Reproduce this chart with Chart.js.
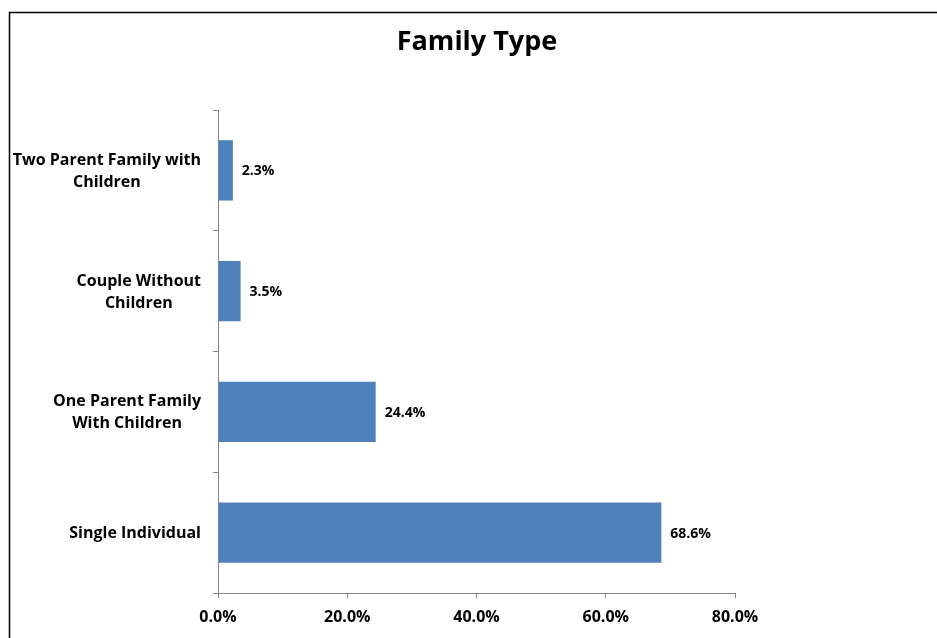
<!DOCTYPE html>
<html>
<head>
<meta charset="utf-8">
<script src="https://cdn.jsdelivr.net/npm/chart.js@4"></script>
<style>
  html, body { margin: 0; padding: 0; background: #ffffff; }
  #wrap { position: relative; width: 937px; height: 638px; }
</style>
</head>
<body>
<div id="wrap"><canvas id="familyChart" width="937" height="638"></canvas></div>
<script>
/* ── Data ── */
const chartTitle = 'Family Type';
const categories = [
  ['Two Parent Family with', 'Children'],
  ['Couple Without', 'Children'],
  ['One Parent Family', 'With Children'],
  ['Single Individual']
];
const shares = [2.3, 3.5, 24.4, 68.6];
const xTicks = [0, 20, 40, 60, 80];

const FONT = '"Open Sans", "Liberation Sans", sans-serif';

/* ── Frame (left + top border) and title ── */
const framePlugin = {
  id: 'frame',
  beforeDraw(chart) {
    const c = chart.ctx;
    c.save();
    c.fillStyle = '#ffffff';
    c.fillRect(0, 0, chart.width, chart.height);
    c.strokeStyle = '#000000';
    c.lineWidth = 1.5;
    c.beginPath();
    c.moveTo(9.5, chart.height);
    c.lineTo(9.5, 12.5);
    c.lineTo(chart.width, 12.5);
    c.stroke();
    c.font = 'bold 27px ' + FONT;
    c.fillStyle = '#000000';
    c.textAlign = 'center';
    c.textBaseline = 'middle';
    c.fillText(chartTitle, 477, 42);
    c.restore();
  }
};

/* ── Category labels, each line centred inside a right-aligned block ── */
const catLabelPlugin = {
  id: 'catLabels',
  afterDraw(chart) {
    const y = chart.scales.y;
    const c = chart.ctx;
    c.save();
    c.font = 'bold 16px ' + FONT;
    c.fillStyle = '#000000';
    c.textAlign = 'center';
    c.textBaseline = 'middle';
    const right = y.right - 17;
    categories.forEach((lines, i) => {
      const cy = y.getPixelForTick(i) + 1;
      const w = Math.max(...lines.map(l => c.measureText(l).width));
      const cx = right - w / 2;
      const lh = 22;
      lines.forEach((l, k) => {
        c.fillText(l, cx, cy + (k - (lines.length - 1) / 2) * lh);
      });
    });
    c.restore();
  }
};

/* ── Value labels at bar ends ── */
const valueLabelPlugin = {
  id: 'valueLabels',
  afterDatasetsDraw(chart) {
    const c = chart.ctx;
    const meta = chart.getDatasetMeta(0);
    c.save();
    c.font = 'bold 14px ' + FONT;
    c.fillStyle = '#000000';
    c.textAlign = 'left';
    c.textBaseline = 'middle';
    meta.data.forEach((bar, i) => {
      c.fillText(shares[i].toFixed(1) + '%', bar.x + 9, bar.y + 1);
    });
    c.restore();
  }
};

/* ── Chart ── */
const ctx = document.getElementById('familyChart').getContext('2d');
new Chart(ctx, {
  type: 'bar',
  data: {
    labels: categories,
    datasets: [{
      data: shares,
      backgroundColor: '#4F81BD',
      borderWidth: 0,
      barPercentage: 0.5,
      categoryPercentage: 1.0
    }]
  },
  options: {
    indexAxis: 'y',
    responsive: false,
    animation: false,
    layout: { padding: { left: 0, right: 202, top: 110, bottom: 0 } },
    plugins: {
      legend: { display: false },
      tooltip: { enabled: false },
      title: { display: false }
    },
    scales: {
      x: {
        min: 0,
        max: 80,
        afterBuildTicks: axis => { axis.ticks = xTicks.map(v => ({ value: v })); },
        afterFit: axis => { axis.height = 45; },
        grid: { drawOnChartArea: false, drawTicks: true, tickLength: 5, color: '#868686' },
        border: { display: true, color: '#868686', width: 1 },
        ticks: {
          color: '#000000',
          padding: 10,
          font: { family: FONT, size: 16, weight: 'bold' },
          callback: v => v.toFixed(1) + '%'
        }
      },
      y: {
        afterFit: axis => { axis.width = 218; },
        grid: { drawOnChartArea: false, drawTicks: true, tickLength: 5, offset: true, color: '#868686' },
        border: { display: true, color: '#868686', width: 1 },
        ticks: { display: false }
      }
    }
  },
  plugins: [framePlugin, catLabelPlugin, valueLabelPlugin]
});
</script>
</body>
</html>
